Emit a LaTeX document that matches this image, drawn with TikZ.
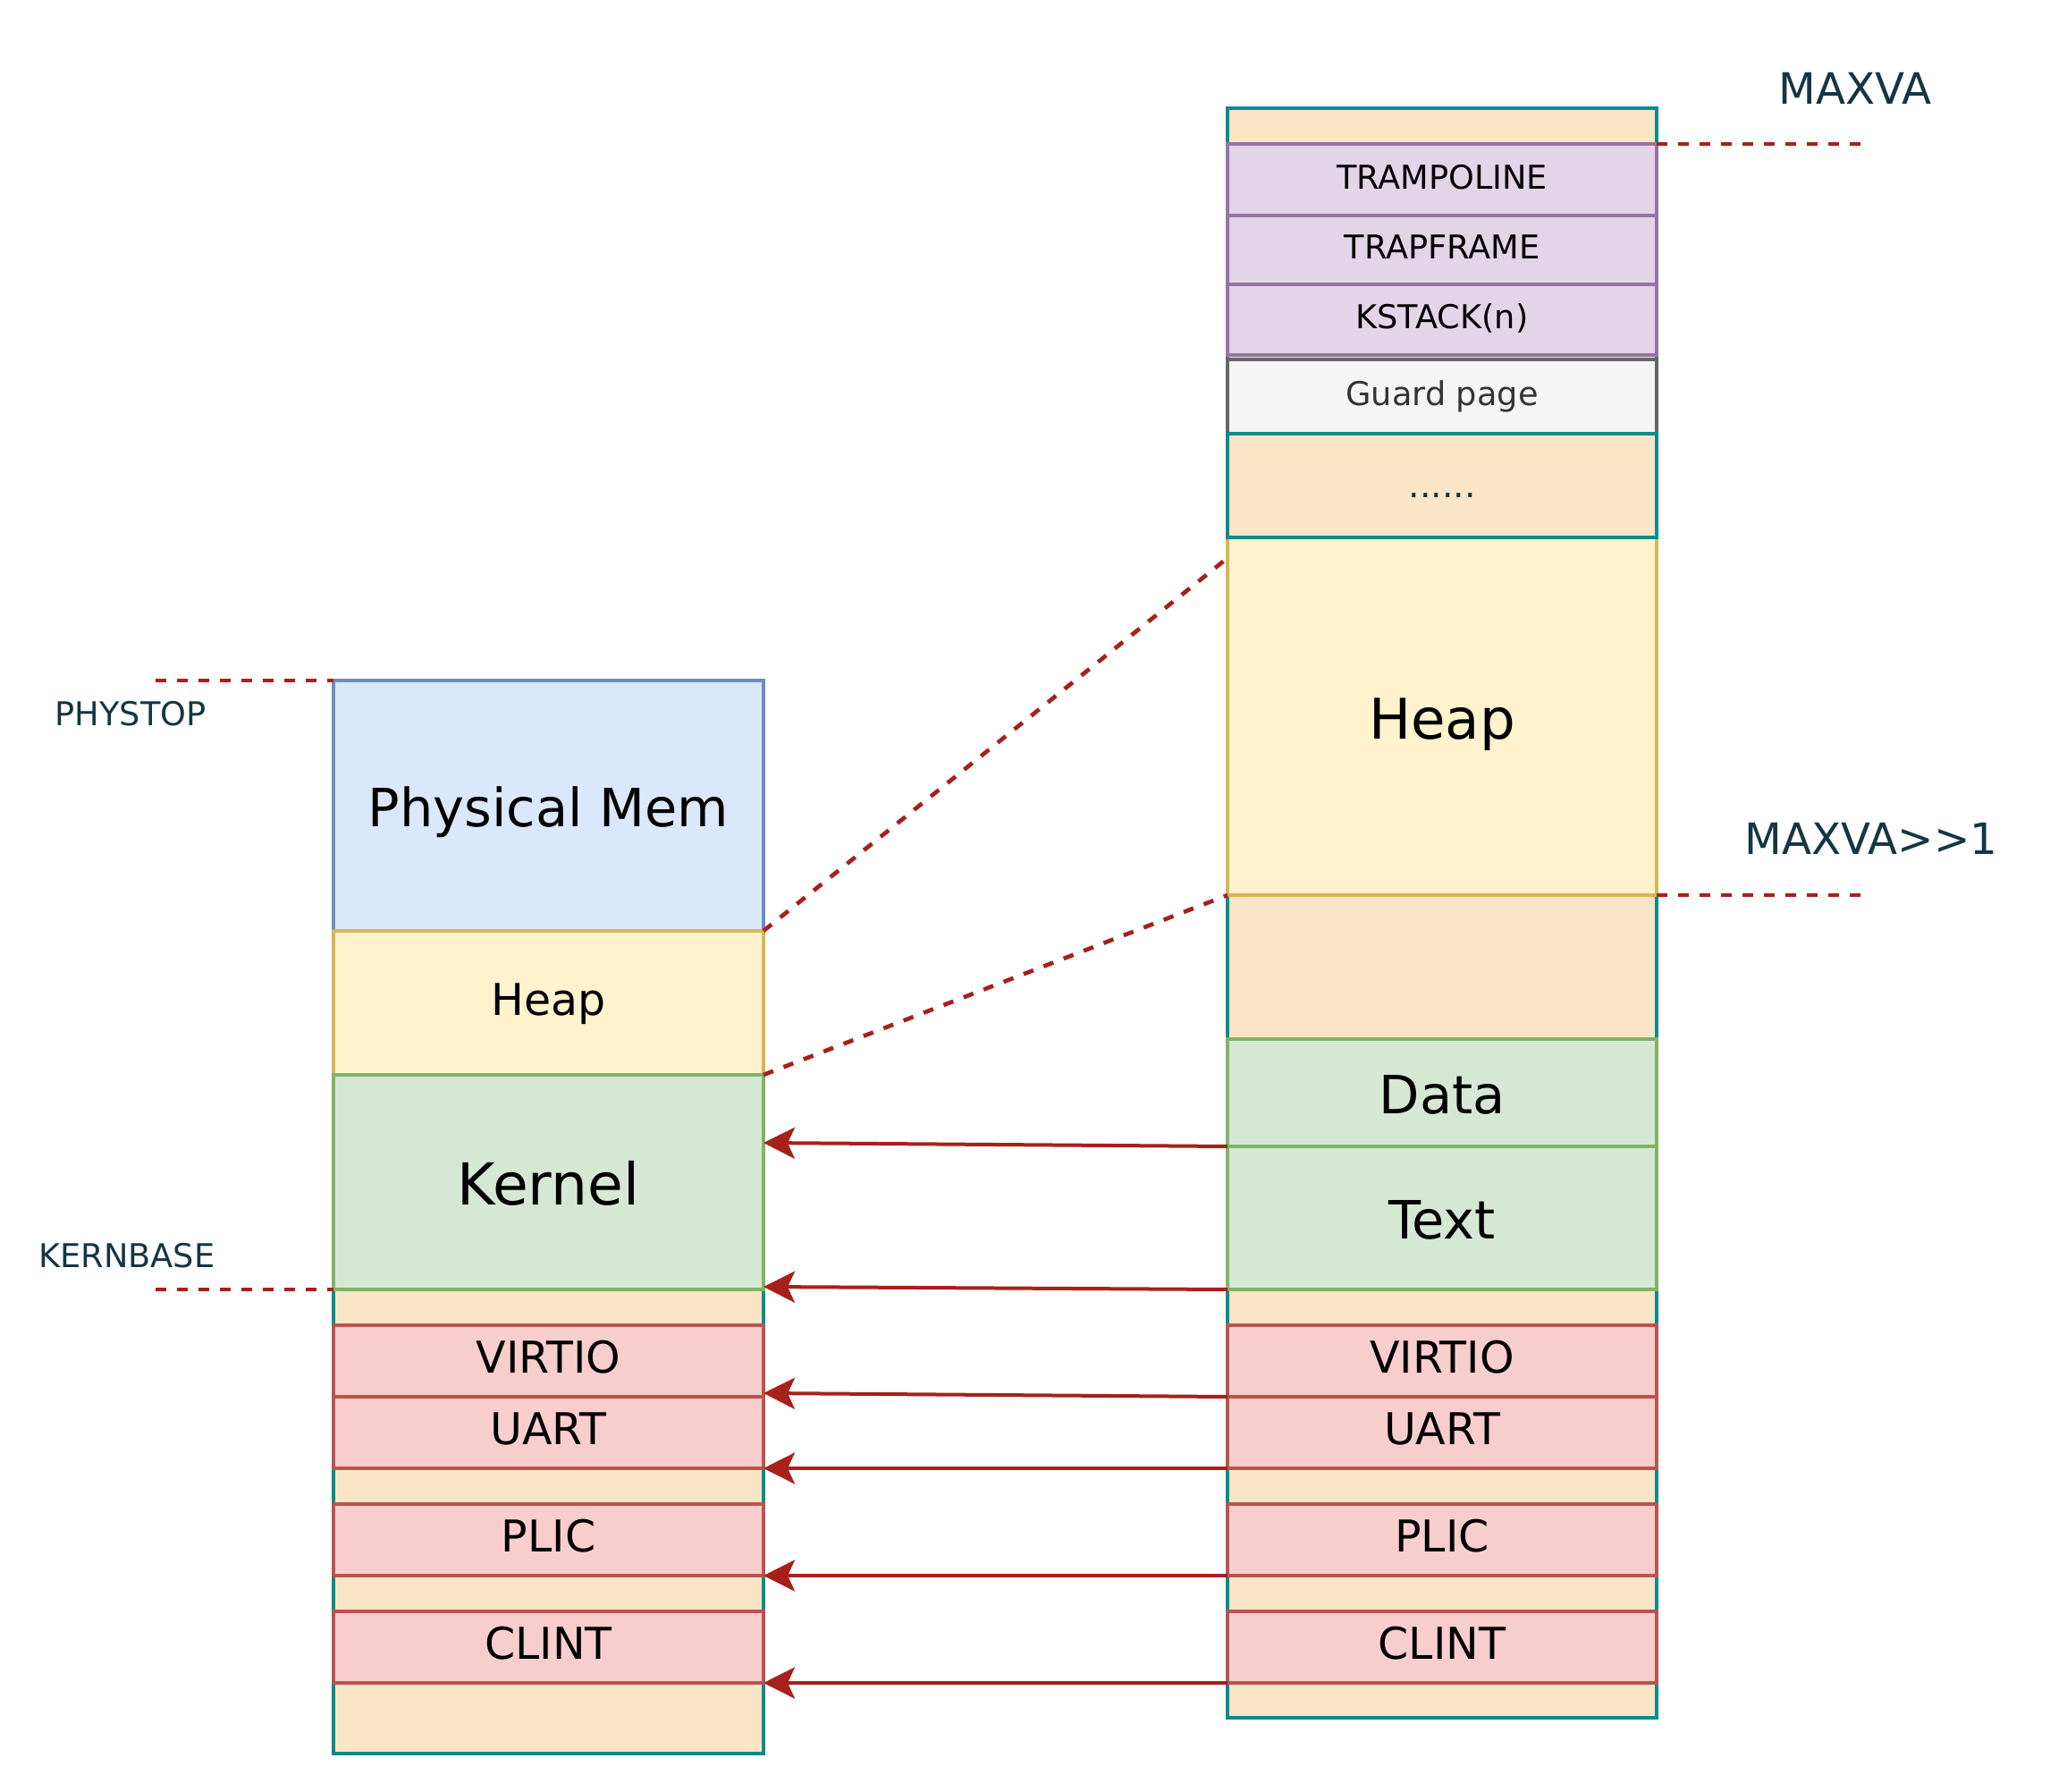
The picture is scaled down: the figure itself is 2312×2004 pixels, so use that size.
\documentclass[tikz,border=0pt]{standalone}
\usepackage{fontspec}
\setmainfont{DejaVu Sans}
\usetikzlibrary{arrows.meta}
\definecolor{orF}{HTML}{FAE5C7}
\definecolor{tealS}{HTML}{0F8B8D}
\definecolor{labelC}{HTML}{143642}
\definecolor{arrowC}{HTML}{A8201A}
\definecolor{blueF}{HTML}{DAE8FC}
\definecolor{blueS}{HTML}{6C8EBF}
\definecolor{yelF}{HTML}{FFF2CC}
\definecolor{yelS}{HTML}{D6B656}
\definecolor{grnF}{HTML}{D5E8D4}
\definecolor{grnS}{HTML}{82B366}
\definecolor{redF}{HTML}{F8CECC}
\definecolor{redS}{HTML}{B85450}
\definecolor{purF}{HTML}{E1D5E7}
\definecolor{purS}{HTML}{9673A6}
\definecolor{grayF}{HTML}{F5F5F5}
\definecolor{grayS}{HTML}{666666}
\definecolor{grayT}{HTML}{333333}
\begin{document}
\begin{tikzpicture}[x=0.3pt,y=-0.3pt,
  blk/.style={draw, line width=1.1pt, inner sep=0pt, outer sep=0pt, anchor=north west, text=black},
  sz/.style 2 args={minimum width=#1*0.3pt, minimum height=#2*0.3pt},
  bgbox/.style={blk, fill=orF, draw=tealS},
  bluebox/.style={blk, fill=blueF, draw=blueS},
  yelbox/.style={blk, fill=yelF, draw=yelS},
  grnbox/.style={blk, fill=grnF, draw=grnS},
  redbox/.style={blk, fill=redF, draw=redS, fmed},
  purbox/.style={blk, fill=purF, draw=purS, fsmall},
  graybox/.style={blk, fill=grayF, draw=grayS, fsmall, text=grayT},
  fhuge/.style={font=\fontsize{18.8}{23}\selectfont, text height=15pt, text depth=0pt},
  fkern/.style={font=\fontsize{19.4}{23}\selectfont, text height=15pt, text depth=0pt},
  flarge/.style={font=\fontsize{17.7}{21}\selectfont, text height=13.8pt, text depth=0pt},
  fmed/.style={font=\fontsize{14.7}{17}\selectfont, text height=8.1pt, text depth=0pt},
  fsmall/.style={font=\fontsize{11}{13}\selectfont, text height=6pt, text depth=0pt},
  fdots/.style={font=\fontsize{11.8}{14}\selectfont, text height=7.8pt, text depth=0pt},
  lbl/.style={anchor=base, text=labelC, inner sep=0pt},
  dashline/.style={draw=arrowC, line width=1.4pt, dash pattern=on 3.5pt off 3.7pt},
  arr/.style={draw=arrowC, line width=1.2pt, -{Stealth[length=10.5pt,width=10.5pt,inset=2.4pt]}}
]
\useasboundingbox (0,0) rectangle (2312,2004);

% ---------- left column (physical) ----------
\node[bgbox, sz={481}{519}] (bgL) at (373,1442) {};
\node[bluebox, sz={481}{280}, flarge] (pm) at (373,761) {Physical Mem};
\node[yelbox, sz={481}{161}, fmed] (heapL) at (373,1041) {Heap};
\node[grnbox, sz={481}{240}, fkern] (kernel) at (373,1202) {Kernel};
\node[redbox, sz={481}{80}] (virtioL) at (373,1482) {VIRTIO};
\node[redbox, sz={481}{80}] (uartL) at (373,1562) {UART};
\node[redbox, sz={481}{80}] (plicL) at (373,1682) {PLIC};
\node[redbox, sz={481}{80}] (clintL) at (373,1802) {CLINT};

% ---------- right column (virtual) ----------
\node[bgbox, sz={480}{1800}] (bgR) at (1373,121) {};
\node[yelbox, sz={480}{400}, fhuge] (heapR) at (1373,601) {Heap};
\node[purbox, sz={480}{80}] (tramp) at (1373,161) {TRAMPOLINE};
\node[purbox, sz={480}{77}] (trapf) at (1373,241) {TRAPFRAME};
\node[purbox, sz={480}{79}] (kstack) at (1373,318) {KSTACK(n)};
\node[graybox, sz={480}{83}] (guard) at (1373,402) {Guard page};
\node[bgbox, sz={480}{116}, fdots, text=labelC] (dots) at (1373,485) {......};
\node[grnbox, sz={480}{120}, flarge] (data) at (1373,1162) {Data};
\node[grnbox, sz={480}{160}, flarge] (textb) at (1373,1282) {Text};
\node[redbox, sz={480}{80}] (virtioR) at (1373,1482) {VIRTIO};
\node[redbox, sz={480}{80}] (uartR) at (1373,1562) {UART};
\node[redbox, sz={480}{80}] (plicR) at (1373,1682) {PLIC};
\node[redbox, sz={480}{80}] (clintR) at (1373,1802) {CLINT};

% ---------- labels ----------
\node[lbl, font=\fontsize{14.5}{17}\selectfont] (lmaxva) at (2075,116) {MAXVA};
\node[lbl, font=\fontsize{14.5}{17}\selectfont] (lmaxvah) at (2093,955) {MAXVA>{}>1};
\node[lbl, font=\fontsize{11}{13}\selectfont] (lphys) at (146,811) {PHYSTOP};
\node[lbl, font=\fontsize{11}{13}\selectfont] (lkern) at (142,1417) {KERNBASE};

% ---------- dashed marker lines ----------
\coordinate (phys) at (174,761);
\coordinate (kb) at (174,1442);
\coordinate (mx) at (2082,161);
\coordinate (mxh) at (2082,1001);
\coordinate (hR) at (1373,624);
\draw[dashline] (phys) -- (pm.north west);
\draw[dashline] (kb) -- (kernel.south west);
\draw[dashline] (tramp.north east) -- (mx);
\draw[dashline] (heapR.south east) -- (mxh);
\draw[dashline] (heapL.north east) -- (hR);
\draw[dashline] (heapL.south east) -- (heapR.south west);

% ---------- mapping arrows ----------
\coordinate (k1) at (854,1278);
\coordinate (k2) at (854,1439);
\coordinate (k3) at (854,1558);
\draw[arr] (textb.north west) -- (k1);
\draw[arr] (textb.south west) -- (k2);
\draw[arr] (virtioR.south west) -- (k3);
\draw[arr] (uartR.south west) -- (uartL.south east);
\draw[arr] (plicR.south west) -- (plicL.south east);
\draw[arr] (clintR.south west) -- (clintL.south east);
\end{tikzpicture}
\end{document}
